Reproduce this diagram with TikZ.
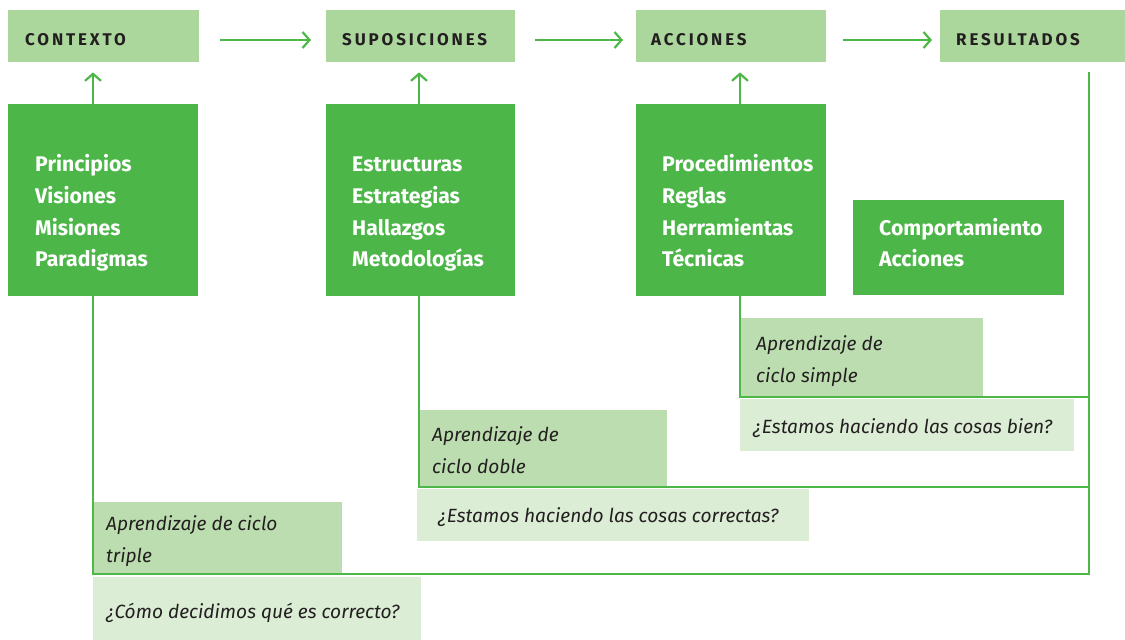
\documentclass[tikz,border=0pt]{standalone}
\usepackage{fontspec}
\setmainfont{Fira Sans}
\usetikzlibrary{arrows.meta,calc}
\definecolor{hdr}{HTML}{ABD69C}
\definecolor{dk}{HTML}{4CB748}
\definecolor{lbl}{HTML}{BCDDAF}
\definecolor{qst}{HTML}{DCEDD6}
\definecolor{ln}{HTML}{4DB848}
\definecolor{txt}{HTML}{231F20}
\begin{document}
\begin{tikzpicture}[x=1bp,y=-1bp,
  hdrbox/.style={fill=hdr, anchor=north west, minimum height=52bp, inner sep=0pt},
  hdrtext/.style={anchor=base west, inner sep=0pt, text=txt,
    font=\fontsize{17}{18}\selectfont\bfseries\addfontfeatures{LetterSpace=17}},
  dkbox/.style={fill=dk, anchor=north west, minimum height=192bp, minimum width=190bp, inner sep=0pt},
  dktext/.style={anchor=base west, inner sep=0pt, align=left, text=white,
    font=\fontsize{21.3}{32.1}\selectfont\bfseries},
  lblbox/.style={fill=lbl, anchor=north west, inner sep=0pt},
  qstbox/.style={fill=qst, anchor=north west, inner sep=0pt},
  ittext/.style={anchor=base west, inner sep=0pt, align=left, text=txt,
    font=\fontsize{19.2}{32.1}\selectfont\itshape},
  flow/.style={draw=ln, line width=2.2bp, -{Straight Barb[length=7bp,width=16bp,line width=2.2bp]}},
  loop/.style={draw=ln, line width=2.2bp}
]
\useasboundingbox (0,0) rectangle (1125,640);

% header boxes
\node[hdrbox, minimum width=191bp] (ctx) at (8,10) {};
\node[hdrbox, minimum width=189bp] (sup) at (326,10) {};
\node[hdrbox, minimum width=190bp] (acc) at (636,10) {};
\node[hdrbox, minimum width=185bp] (res) at (940,10) {};
\node[hdrtext] (ctxt) at (25,46) {CONTEXTO};
\node[hdrtext] (supt) at (342,46) {SUPOSICIONES};
\node[hdrtext] (acct) at (651,46) {ACCIONES};
\node[hdrtext] (rest) at (956,46) {RESULTADOS};

% dark boxes
\node[dkbox] (d1) at (8,104) {};
\node[dkbox, minimum width=189bp] (d2) at (326,104) {};
\node[dkbox] (d3) at (636,104) {};
\node[dkbox, minimum width=211bp, minimum height=95bp] (d4) at (853,200) {};

% (base anchor = baseline of the last line)
\node[dktext] (t1) at (35,267) {Principios\\Visiones\\Misiones\\Paradigmas};
\node[dktext] (t2) at (352,267) {Estructuras\\Estrategias\\Hallazgos\\Metodolog\'ias};
\node[dktext] (t3) at (662,267) {Procedimientos\\Reglas\\Herramientas\\T\'ecnicas};
\node[dktext] (t4) at (879,267) {Comportamiento\\Acciones};

% label boxes
\node[lblbox, minimum width=243bp, minimum height=79bp] (ls) at (740,318) {};
\node[qstbox, minimum width=334bp, minimum height=52bp] (qs) at (740,399) {};
\node[lblbox, minimum width=248bp, minimum height=77bp] (ld) at (419,410) {};
\node[qstbox, minimum width=392bp, minimum height=52bp] (qd) at (417,489) {};
\node[lblbox, minimum width=249bp, minimum height=72bp] (lt) at (93,502) {};
\node[qstbox, minimum width=328bp, minimum height=63bp] (qt) at (93,577) {};

\node[ittext] (lst) at (756,382) {Aprendizaje de\\ciclo simple};
\node[ittext] (qst) at (753,433) {¿Estamos haciendo las cosas bien?};
\node[ittext] (ldt) at (432,473) {Aprendizaje de\\ciclo doble};
\node[ittext] (qdt) at (438,522) {¿Estamos haciendo las cosas correctas?};
\node[ittext] (ltt) at (106,562) {Aprendizaje de ciclo\\triple};
\node[ittext] (qtt) at (106,618) {¿Cómo decidimos qué es correcto?};

% horizontal flow arrows
\coordinate (a1s) at (220,40); \coordinate (a1e) at (311,40);
\coordinate (a2s) at (535,40); \coordinate (a2e) at (623,40);
\coordinate (a3s) at (843,40); \coordinate (a3e) at (932,40);
\draw[flow] (a1s) -- (a1e);
\draw[flow] (a2s) -- (a2e);
\draw[flow] (a3s) -- (a3e);

% up arrows
\draw[flow] ($(d1.north west)+(85,0)$) -- ($(ctx.south west)+(85,10)$);
\draw[flow] ($(d2.north west)+(93,0)$) -- ($(sup.south west)+(93,10)$);
\draw[flow] ($(d3.north west)+(104,0)$) -- ($(acc.south west)+(104,10)$);

% feedback loops
\coordinate (rtop) at (1089,72);
\draw[loop] ($(d1.south west)+(85,0)$) |- (1089,574) -- (rtop);
\draw[loop] ($(d2.south west)+(93,0)$) |- (1089,487);
\draw[loop] ($(d3.south west)+(104,0)$) |- (1089,397);
\end{tikzpicture}
\end{document}
